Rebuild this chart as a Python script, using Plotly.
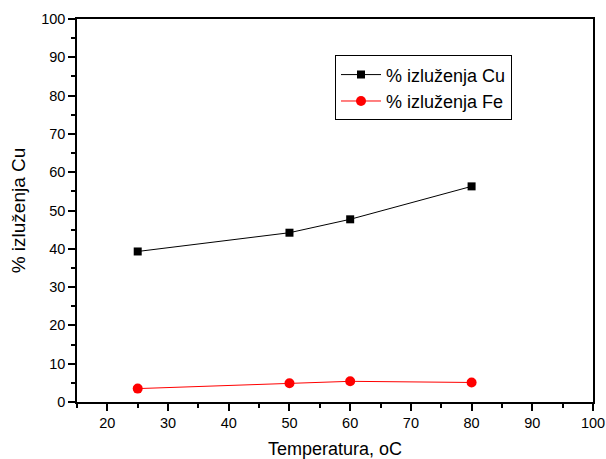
import plotly.graph_objects as go

temperature = [25, 50, 60, 80]
cu_leach = [39.3, 44.2, 47.7, 56.3]
fe_leach = [3.5, 4.9, 5.4, 5.1]

x_ticks = [20, 30, 40, 50, 60, 70, 80, 90, 100]
y_ticks = [0, 10, 20, 30, 40, 50, 60, 70, 80, 90, 100]

FONT = "Liberation Sans, Arial"

fig = go.Figure()
fig.add_trace(go.Scatter(
    x=temperature, y=cu_leach, mode="lines+markers", name="% izluženja Cu",
    line=dict(color="black", width=1),
    marker=dict(symbol="square", size=8, color="black")))
fig.add_trace(go.Scatter(
    x=temperature, y=fe_leach, mode="lines+markers", name="% izluženja Fe",
    line=dict(color="red", width=1),
    marker=dict(symbol="circle", size=10, color="red")))

axis_common = dict(
    showgrid=False, zeroline=False, showline=True, linecolor="black", linewidth=1.5,
    mirror=True, ticks="outside", ticklen=7, tickwidth=1.5, tickcolor="black",
    tickfont=dict(family=FONT, size=14.5, color="black"),
    minor=dict(ticks="outside", ticklen=4, tickwidth=1.5, tickcolor="black"),
    automargin=False,
)

fig.update_xaxes(range=[15, 100], tickvals=x_ticks, minor_dtick=5,
                 title=dict(text="Temperatura, oC", font=dict(family=FONT, size=18, color="black"), standoff=13),
                 **axis_common)
fig.update_yaxes(range=[0, 100], tickvals=y_ticks, minor_dtick=5,
                 title=dict(text="% izluženja Cu", font=dict(family=FONT, size=19, color="black"), standoff=10),
                 **axis_common)

fig.update_layout(
    width=606, height=459,
    margin=dict(l=77, r=13, t=19, b=57, autoexpand=False),
    paper_bgcolor="white", plot_bgcolor="white",
    font=dict(family=FONT, color="black"),
    legend=dict(x=0.5, y=0.905, xanchor="left", yanchor="top",
                bgcolor="white", bordercolor="black", borderwidth=1,
                font=dict(family=FONT, size=18, color="black"),
                itemwidth=40, tracegroupgap=0),
    showlegend=True,
)

fig.write_html("out.html", config={"displayModeBar": False},
               post_script="document.body.style.margin='0';document.body.style.overflow='hidden';")
